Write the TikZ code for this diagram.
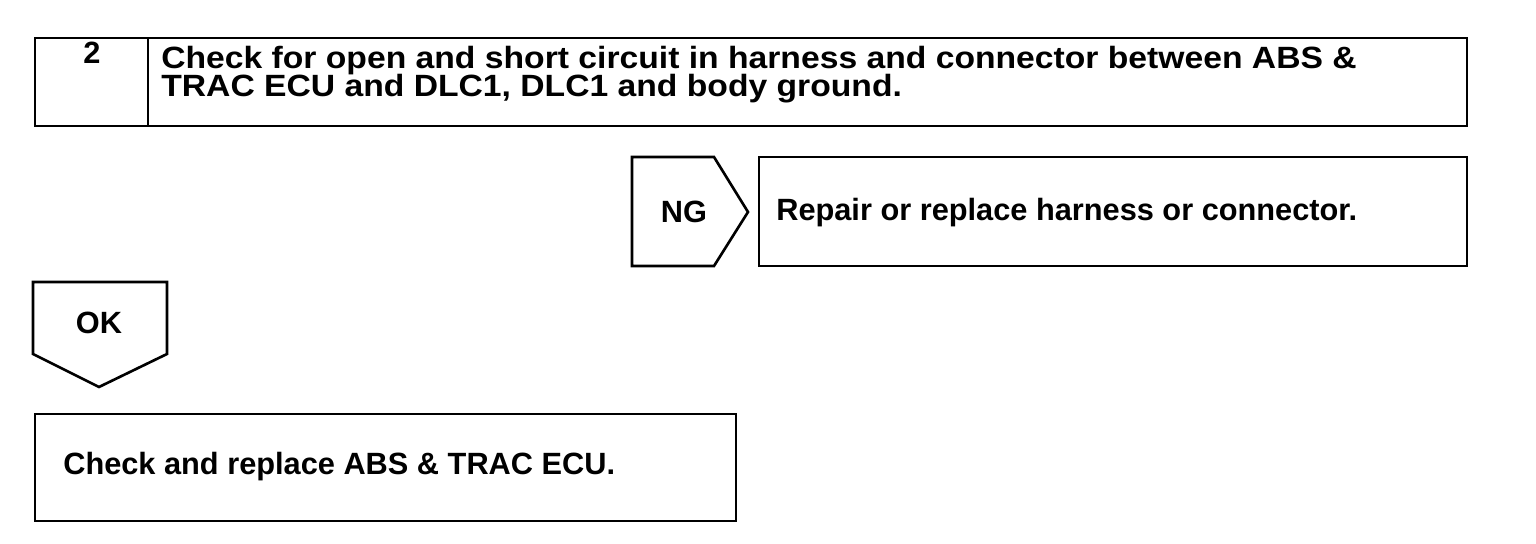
\documentclass[tikz,border=0pt]{standalone}
\usepackage{fontspec}
\setmainfont{Liberation Sans}
\newfontfamily\widefont[FakeStretch=1.095]{Liberation Sans}
\newcommand{\tightlines}{\setlength{\lineskiplimit}{-20pt}}
\begin{document}
\begin{tikzpicture}[x=0.02cm, y=-0.02cm, line width=1.5pt]
  \tikzstyle{frame} = [draw, line join=miter]
  \tikzstyle{msg} = [font=\fontsize{17.5}{15.9}\selectfont\bfseries, inner sep=0pt]
  \tikzstyle{widemsg} = [font=\widefont\fontsize{17.5}{15.9}\selectfont\bfseries\tightlines, inner sep=0pt]

  \useasboundingbox (0,0) rectangle (1536,544);

  % step 2
  \draw[frame] (35,38) rectangle (1467,126);
  \draw[frame] (148,38) -- (148,126);
  \node[msg] (num) at (92,53) {2};
  \node[widemsg, anchor=west, align=left] (check) at (160,74.5)
    {Check for open and short circuit in harness and connector between ABS \&\\
     TRAC ECU and DLC1, DLC1 and body ground.};

  % NG branch
  \draw[frame] (632,157) -- (714,157) -- (748,212) -- (714,266) -- (632,266) -- cycle;
  \node[msg] (ng) at (684,212) {NG};
  \draw[frame] (759,157) rectangle (1467,266);
  \node[msg, anchor=west] (repair) at (775,213) {Repair or replace harness or connector.};

  % OK branch
  \draw[frame] (33,282) -- (167,282) -- (167,354) -- (99,387) -- (33,354) -- cycle;
  \node[msg] (ok) at (99,323) {OK};
  \draw[frame] (35,414) rectangle (736,521);
  \node[msg, anchor=west] (ecu) at (62,467) {Check and replace ABS \& TRAC ECU.};
\end{tikzpicture}
\end{document}
